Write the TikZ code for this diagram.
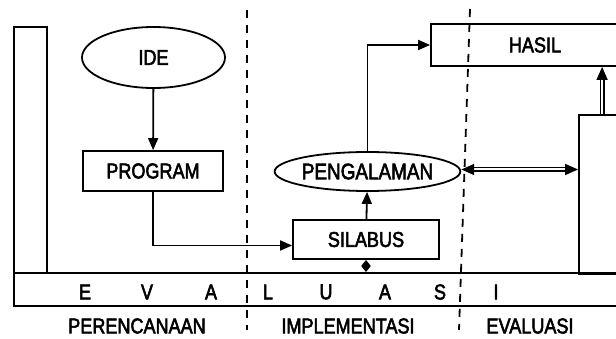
\documentclass[tikz,border=0pt]{standalone}
\usepackage{fontspec}
\newfontfamily\dfont{Liberation Sans}[FakeStretch=0.84,FakeBold=2.5]
\usetikzlibrary{shapes.geometric,arrows.meta}
\tikzset{
  txt/.style={font=\dfont\fontsize{21.5}{24}\selectfont, inner sep=0pt},
  boxn/.style={txt, draw, rectangle, line width=1.8pt},
  ell/.style={txt, draw, ellipse, line width=1.8pt},
  conn/.style={line width=1.8pt, -{Triangle[length=12pt,width=10pt]}},
  dbl/.style={line width=1.4pt, double, double distance=2pt},
  sep/.style={line width=1.8pt, dash pattern=on 8pt off 7pt},
}
\begin{document}
\begin{tikzpicture}[x=1pt,y=-1pt]
\useasboundingbox (0,0) rectangle (616,339);
% boxes
\node[boxn, minimum width=33pt, minimum height=246pt] (lbox) at (30.5,150) {};
\node[boxn, minimum width=626pt, minimum height=33pt] (bar) at (327,289.5) {};
\node[ell, minimum width=143pt, minimum height=61pt] (ide) at (153.5,57.5) {IDE};
\node[boxn, minimum width=140pt, minimum height=40pt] (program) at (153,171) {PROGRAM};
\node[boxn, minimum width=146pt, minimum height=39pt] (silabus) at (366,239.5) {SILABUS};
\node[ell, minimum width=145pt, minimum height=39pt, font=\dfont\fontsize{22.5}{24}\selectfont] (pengalaman) at (367.5,171.5) {PENGALAMAN};
\node[boxn, minimum width=208pt, minimum height=42pt] (hasil) at (535,45) {HASIL};
\node[boxn, minimum width=62pt, minimum height=159pt] (rbox) at (610,194.5) {};
% bar letters
\foreach \l/\x [count=\i] in {E/85,V/147,A/211,L/268,U/326,A/385,S/440,I/496}
  \node[txt] (bl\i) at (\x,292) {\l};
% phase labels
\node[txt] (perencanaan) at (137,326) {PERENCANAAN};
\node[txt] (implementasi) at (348,326) {IMPLEMENTASI};
\node[txt] (evaluasi) at (530,326) {EVALUASI};
% dashed separators
\coordinate (d1t) at (247,10); \coordinate (d1b) at (247,330);
\coordinate (d2t) at (470,9); \coordinate (d2b) at (459,330);
\draw[sep] (d1t) -- (d1b);
\draw[sep] (d2t) -- (d2b);
% connectors
\draw[conn] (ide) -- (program);
\draw[conn] (program.south) |- ([yshift=-6pt]silabus.west);
\draw[conn] (silabus) -- (pengalaman);
\draw[conn] (pengalaman.north) |- (hasil.west);
\coordinate (pr) at ([yshift=2pt]pengalaman.east);
\draw[dbl, {Triangle[length=13pt,width=11pt]}-{Triangle[length=13pt,width=11pt]}] (pr) -- (pr -| rbox.west);
\coordinate (vt) at ([xshift=24pt]rbox.north west);
\draw[dbl, -{Triangle[length=13pt,width=11pt]}] (vt) -- (vt |- hasil.south);
\draw[line width=1.8pt, {Triangle[length=6pt,width=9pt]}-{Triangle[length=6pt,width=9pt]}] (silabus.south) -- (silabus.south |- bar.north);
\end{tikzpicture}
\end{document}
